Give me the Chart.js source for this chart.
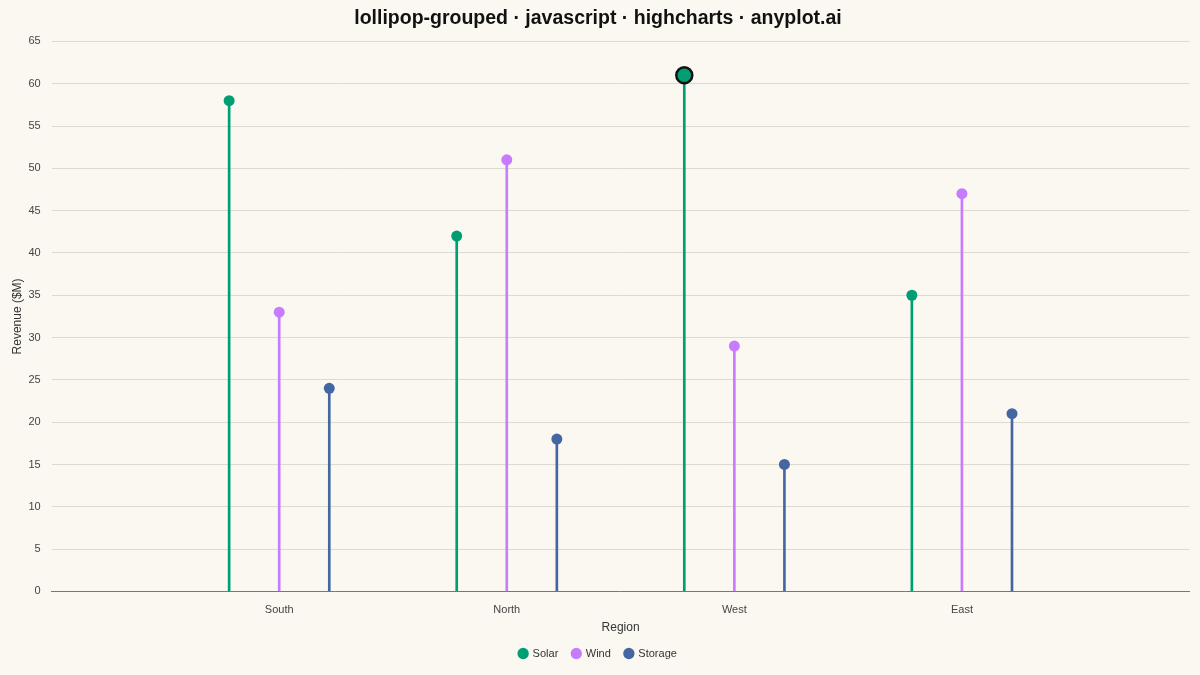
<!DOCTYPE html>
<html>
<head>
<meta charset="utf-8">
<script src="https://cdn.jsdelivr.net/npm/chart.js@4"></script>
<style>
html,body{margin:0;padding:0;background:#FAF8F1;}
#wrap{width:1200px;height:675px;}
</style>
</head>
<body>
<div id="wrap"><canvas id="c" width="1200" height="675"></canvas></div>
<script>
const categories = ['South', 'North', 'West', 'East'];
const seriesNames = ['Solar', 'Wind', 'Storage'];
const solar = [58, 42, 61, 35];
const wind = [33, 51, 29, 47];
const storage = [24, 18, 15, 21];
const yTicks = [0, 5, 10, 15, 20, 25, 30, 35, 40, 45, 50, 55, 60, 65];
const colors = ['#009E73', '#C77CFF', '#4467A3'];
const offsets = [-0.22, 0, 0.22];
const highlight = { series: 0, index: 2 };

const allValues = [solar, wind, storage];
const datasets = [];
allValues.forEach((vals, s) => {
  const pts = vals.map((v, i) => ({ x: i + offsets[s], y: v }));
  const isHi = (i) => s === highlight.series && i === highlight.index;
  datasets.push({
    type: 'bar',
    label: seriesNames[s] + ' stem',
    data: pts,
    backgroundColor: colors[s],
    borderWidth: 0,
    barThickness: 2,
    grouped: false,
    order: 2
  });
  datasets.push({
    type: 'scatter',
    label: seriesNames[s],
    data: pts,
    backgroundColor: colors[s],
    borderColor: vals.map((v, i) => isHi(i) ? '#111111' : colors[s]),
    borderWidth: vals.map((v, i) => isHi(i) ? 2.5 : 0),
    pointRadius: vals.map((v, i) => isHi(i) ? 8 : 5.5),
    pointHoverRadius: 6,
    order: 1
  });
});

const zeroSidePad = (scale) => { scale.paddingLeft = 0; scale.paddingRight = 0; };

Chart.defaults.font.family = '"Liberation Sans", Arial, sans-serif';
new Chart(document.getElementById('c'), {
  type: 'scatter',
  data: { datasets },
  options: {
    responsive: false,
    animation: false,
    layout: { padding: { left: 3, right: 7, top: 0, bottom: 6 } },
    plugins: {
      title: {
        display: true,
        text: 'lollipop-grouped · javascript · highcharts · anyplot.ai',
        color: '#111111',
        font: { size: 19.5, weight: 'bold' },
        padding: { top: 7, bottom: 11 }
      },
      legend: {
        position: 'bottom',
        labels: {
          usePointStyle: true,
          pointStyle: 'circle',
          boxWidth: 8,
          boxHeight: 8,
          color: '#333333',
          font: { size: 11 },
          padding: 14,
          generateLabels: (chart) => {
            return chart.data.datasets.map((ds, i) => ({
              text: ds.label,
              fillStyle: ds.backgroundColor,
              strokeStyle: ds.backgroundColor,
              lineWidth: 0,
              pointStyle: 'circle',
              fontColor: '#333333',
              hidden: false,
              datasetIndex: i
            })).filter(it => !it.text.endsWith('stem'));
          }
        }
      },
      tooltip: { enabled: false }
    },
    scales: {
      x: {
        type: 'linear',
        min: -1,
        max: 4,
        offset: false,
        afterBuildTicks: (axis) => {
          axis.ticks = [-1].concat(categories.map((c, i) => i), [categories.length]).map(v => ({ value: v }));
        },
        afterFit: zeroSidePad,
        ticks: {
          callback: (v) => categories[v] !== undefined ? categories[v] : '',
          color: '#444444',
          font: { size: 11 },
          padding: 12,
          autoSkip: false,
          maxRotation: 0
        },
        grid: { display: false, drawTicks: false },
        border: { display: true, color: '#777777', width: 1 },
        title: { display: true, text: 'Region', color: '#333333', font: { size: 12 }, padding: { top: -8, bottom: -1 } }
      },
      y: {
        min: 0,
        max: 65,
        afterBuildTicks: (axis) => { axis.ticks = yTicks.map(v => ({ value: v })); },
        afterFit: zeroSidePad,
        ticks: { color: '#444444', font: { size: 11 }, padding: 11 },
        grid: { color: '#DDDAD2', drawTicks: false },
        border: { display: false },
        title: { display: true, text: 'Revenue ($M)', color: '#333333', font: { size: 12 }, padding: { top: 7, bottom: -7 } }
      }
    }
  }
});
</script>
</body>
</html>
